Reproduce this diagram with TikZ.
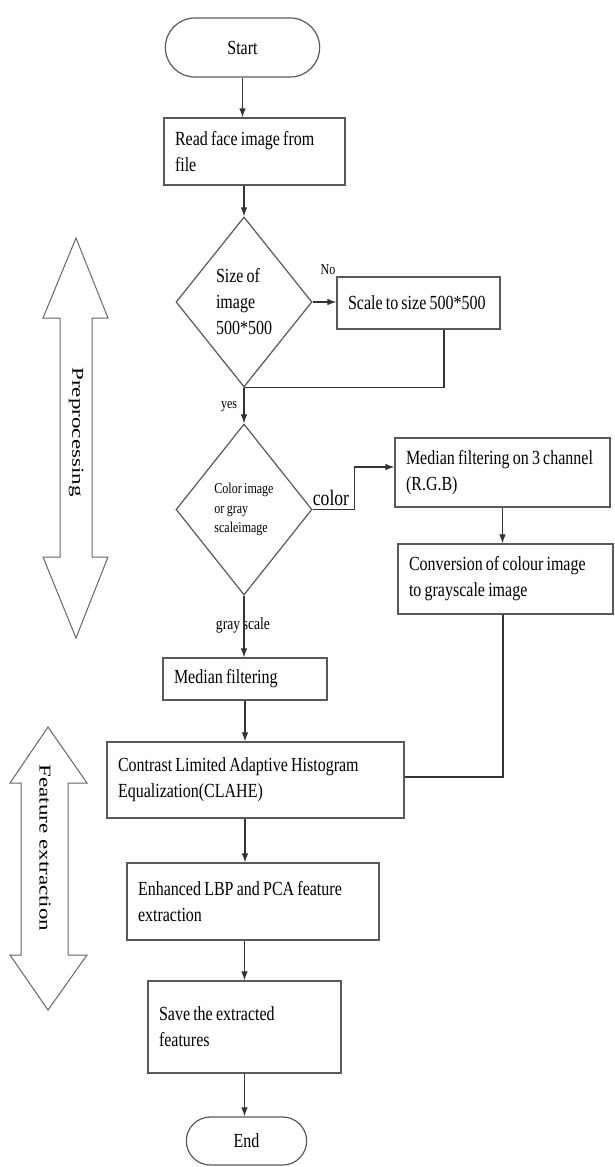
\documentclass[tikz,border=0pt]{standalone}
\usepackage{fontspec}
\setmainfont[FakeStretch=0.8, WordSpace=0.8]{Liberation Serif}
\newfontfamily\sideserif{Liberation Serif}
\usetikzlibrary{arrows.meta, shapes.geometric, shapes.misc}

\newcommand{\flowfont}{\fontsize{20}{26}\selectfont}
\newcommand{\decfont}{\fontsize{15}{19.5}\selectfont}
\newcommand{\tagfont}{\fontsize{15}{18}\selectfont}
\newcommand{\sidetext}[1]{\scalebox{1}[0.72]{\sideserif\fontsize{23}{23}\selectfont #1}}
\hyphenpenalty=10000

\tikzset{
  procbox/.style={rectangle, draw=black!65, line width=1.2pt, align=flush left,
    inner xsep=11pt, inner ysep=3pt, font=\flowfont},
  termbox/.style={rounded rectangle, draw=black!65, line width=1.2pt, font=\flowfont},
  decbox/.style={diamond, draw=black!65, line width=1.2pt, inner sep=0pt,
    align=flush left, minimum width=136pt},
  flowline/.style={draw=black!80, line width=1.1pt},
  flowarrow/.style={flowline, -{Latex[length=9pt,width=6.5pt]}},
  sidearrow/.style={draw=black!60, line width=1pt, fill=white},
  tag/.style={inner sep=1pt, font=\tagfont}
}

\begin{document}
\begin{tikzpicture}[x=1pt, y=-1pt]
  \useasboundingbox (0,0) rectangle (614,1167);

  % side arrows
  \draw[sidearrow] (76,238) -- (108,318) -- (92,318) -- (92,557) -- (108,557)
    -- (76,638) -- (43,557) -- (60,557) -- (60,318) -- (43,318) -- cycle;
  \node[rotate=-90] (prep) at (76,432) {\sidetext{Preprocessing}};
  \draw[sidearrow] (48,727) -- (87,783) -- (68,783) -- (68,955) -- (87,955)
    -- (48,1010) -- (10,955) -- (21,955) -- (21,783) -- (10,783) -- cycle;
  \node[rotate=-90] (featx) at (45,848) {\sidetext{Feature extraction}};

  % main flow
  \node[termbox, minimum width=161pt, minimum height=59pt] (start) at (242.5,47.5) {Start};
  \node[procbox, minimum width=181pt, minimum height=67pt, text width=159pt] (read) at (254.5,151.5)
    {Read face image from\\file};
  \node[decbox, minimum height=170pt, font=\flowfont] (sizeq) at (244,302) {Size of\\image\\500*500};
  \node[procbox, minimum width=163pt, minimum height=52pt, text width=141pt] (rescale) at (418.5,303)
    {\mbox{Scale to size 500*500}};
  \node[decbox, minimum height=171pt, font=\decfont] (colorq) at (244,509.5) {Color image\\or gray\\scaleimage};
  \node[procbox, minimum width=215pt, minimum height=69pt, text width=193pt] (rgbfilt) at (502.5,472.5)
    {\mbox{Median filtering on 3 channel}\\(R.G.B)};
  \node[procbox, minimum width=215pt, minimum height=70pt, text width=193pt] (togray) at (505.5,579)
    {Conversion of colour image\\to grayscale image};
  \node[procbox, minimum width=164pt, minimum height=42pt, text width=142pt] (median) at (245,679)
    {Median filtering};
  \node[procbox, minimum width=297pt, minimum height=76pt, text width=275pt] (clahe) at (255.5,780)
    {Contrast Limited Adaptive Histogram\\Equalization(CLAHE)};
  \node[procbox, minimum width=252pt, minimum height=77pt, text width=230pt] (lbp) at (253,901.5)
    {Enhanced LBP and PCA feature\\extraction};
  \node[procbox, minimum width=193pt, minimum height=92pt, text width=171pt] (save) at (244.5,1027)
    {Save the extracted\\features};
  \node[termbox, minimum width=127pt, minimum height=48pt] (stop) at (246.5,1141) {End};

  % labels
  \node[tag] (lblno) at (328,270) {No};
  \node[tag] (lblyes) at (229,407) {yes};
  \node[tag, font=\fontsize{22}{22}\selectfont] (lblcolor) at (331,498) {color};
  \node[tag, font=\fontsize{17}{17}\selectfont] (lblgray) at (243,625) {gray scale};

  % connectors
  \draw[flowarrow] (start.south) -- (start.south |- read.north);
  \draw[flowarrow] (read.south -| sizeq.north) -- (sizeq.north);
  \draw[flowarrow] (sizeq.east) -- (sizeq.east -| rescale.west);
  \draw[flowline] ([xshift=25.5pt]rescale.south) |- (sizeq.south);
  \draw[flowarrow] (sizeq.south) -- (colorq.north);
  \draw[flowarrow] (colorq.east) -- ++(42,0) |- ([yshift=5.5pt]rgbfilt.west);
  \draw[flowarrow] (rgbfilt.south) -- (rgbfilt.south |- togray.north);
  \draw[flowline] ([xshift=-2.5pt]togray.south) |- ([yshift=3pt]clahe.east);
  \draw[flowarrow] (colorq.south) -- (colorq.south |- median.north);
  \draw[flowarrow] (median.south) -- (median.south |- clahe.north);
  \draw[flowarrow] (median.south |- clahe.south) -- (median.south |- lbp.north);
  \draw[flowarrow] (lbp.south -| save.north) -- (save.north);
  \draw[flowarrow] (save.south) -- (save.south |- stop.north);
\end{tikzpicture}
\end{document}
